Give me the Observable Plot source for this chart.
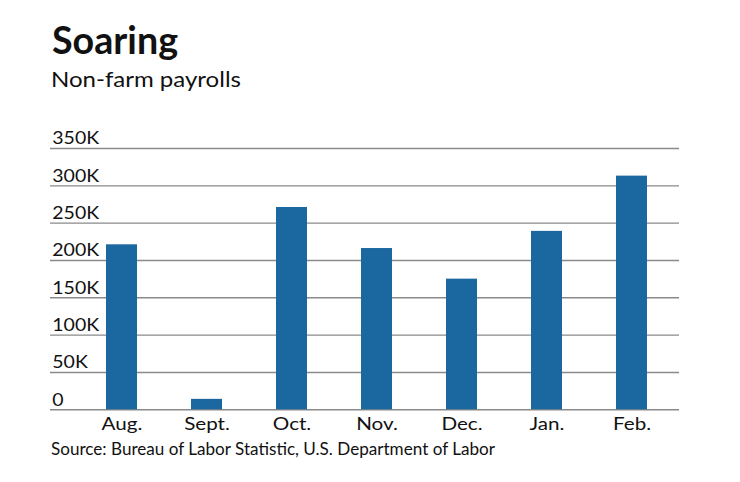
<!DOCTYPE html>
<html>
<head>
<meta charset="utf-8">
<script src="https://cdn.jsdelivr.net/npm/d3@7"></script>
<script src="https://cdn.jsdelivr.net/npm/@observablehq/plot@0.6"></script>
<style>
  html, body { margin: 0; padding: 0; background: #fff; }
  body { position: relative; width: 740px; height: 482px; overflow: hidden; font-family: Lato, "Open Sans", sans-serif; color: #111; }
  .title { position: absolute; left: 51.5px; top: 19.7px; font-size: 39px; line-height: 39px; font-weight: 700; transform: scaleX(0.965); transform-origin: 0 0; white-space: nowrap; }
  .subtitle { position: absolute; left: 51.3px; top: 68.6px; font-size: 20.9px; line-height: 20px; transform: scaleX(1.15); transform-origin: 0 0; white-space: nowrap; }
  .caption { position: absolute; left: 51px; top: 441.2px; font-size: 16.3px; line-height: 15px; transform: scaleX(1.05); transform-origin: 0 0; white-space: nowrap; }
  #chart { position: absolute; left: 0; top: 110px; }
</style>
</head>
<body>
<div class="title">Soaring</div>
<div class="subtitle">Non-farm payrolls</div>
<div id="chart"></div>
<div class="caption">Source: Bureau of Labor Statistic, U.S. Department of Labor</div>
<script>
const months = ["Aug.", "Sept.", "Oct.", "Nov.", "Dec.", "Jan.", "Feb."];
const payrolls = [221000, 14000, 271000, 216000, 175000, 239000, 313000];
const yTickValues = [0, 50000, 100000, 150000, 200000, 250000, 300000, 350000];
const yTickLabels = ["0", "50K", "100K", "150K", "200K", "250K", "300K", "350K"];

const data = months.map((m, i) => ({month: m, value: payrolls[i]}));
const ticks = yTickValues.map((v, i) => ({v, label: yTickLabels[i]}));

const plot = Plot.plot({
  width: 740,
  height: 330,
  marginLeft: 74.4,
  marginRight: 61,
  marginTop: 38,
  marginBottom: 30.7,
  style: {fontFamily: "Lato, 'Open Sans', sans-serif", color: "#111", background: "#fff"},
  x: {domain: months, paddingInner: 0.636, paddingOuter: 0.367, label: null},
  y: {domain: [0, 350000], label: null, axis: null},
  marks: [
    Plot.ruleY(ticks, {y: "v", stroke: "#8a8a8a", strokeWidth: 1.4, insetLeft: -24.4}),
    Plot.barY(data, {x: "month", y: "value", fill: "#1b67a0"}),
    Plot.text(ticks, {y: "v", text: "label", frameAnchor: "left", textAnchor: "start", lineAnchor: "bottom", dx: -22.6, dy: -4.3, fontSize: 16.4, fill: "#111"}),
    Plot.axisX({tickSize: 0, tickPadding: 8, fontSize: 17.2, label: null, fill: "#111"})
  ]
});

// widen the glyphs horizontally to match the reference's wide geometric face
function stretch(nodes, k) {
  nodes.forEach(el => {
    const xa = el.getAttribute("x");
    const x = xa != null && !isNaN(+xa) ? +xa : 0;
    if (xa != null && !isNaN(+xa)) el.removeAttribute("x");
    const t = el.getAttribute("transform") || "";
    el.setAttribute("transform", `${t} translate(${x},0) scale(${k},1)`);
  });
}
stretch(plot.querySelectorAll('g[aria-label="text"] text'), 1.19);
stretch(plot.querySelectorAll('g[aria-label="x-axis tick label"] text'), 1.2);

document.getElementById("chart").appendChild(plot);
</script>
</body>
</html>
